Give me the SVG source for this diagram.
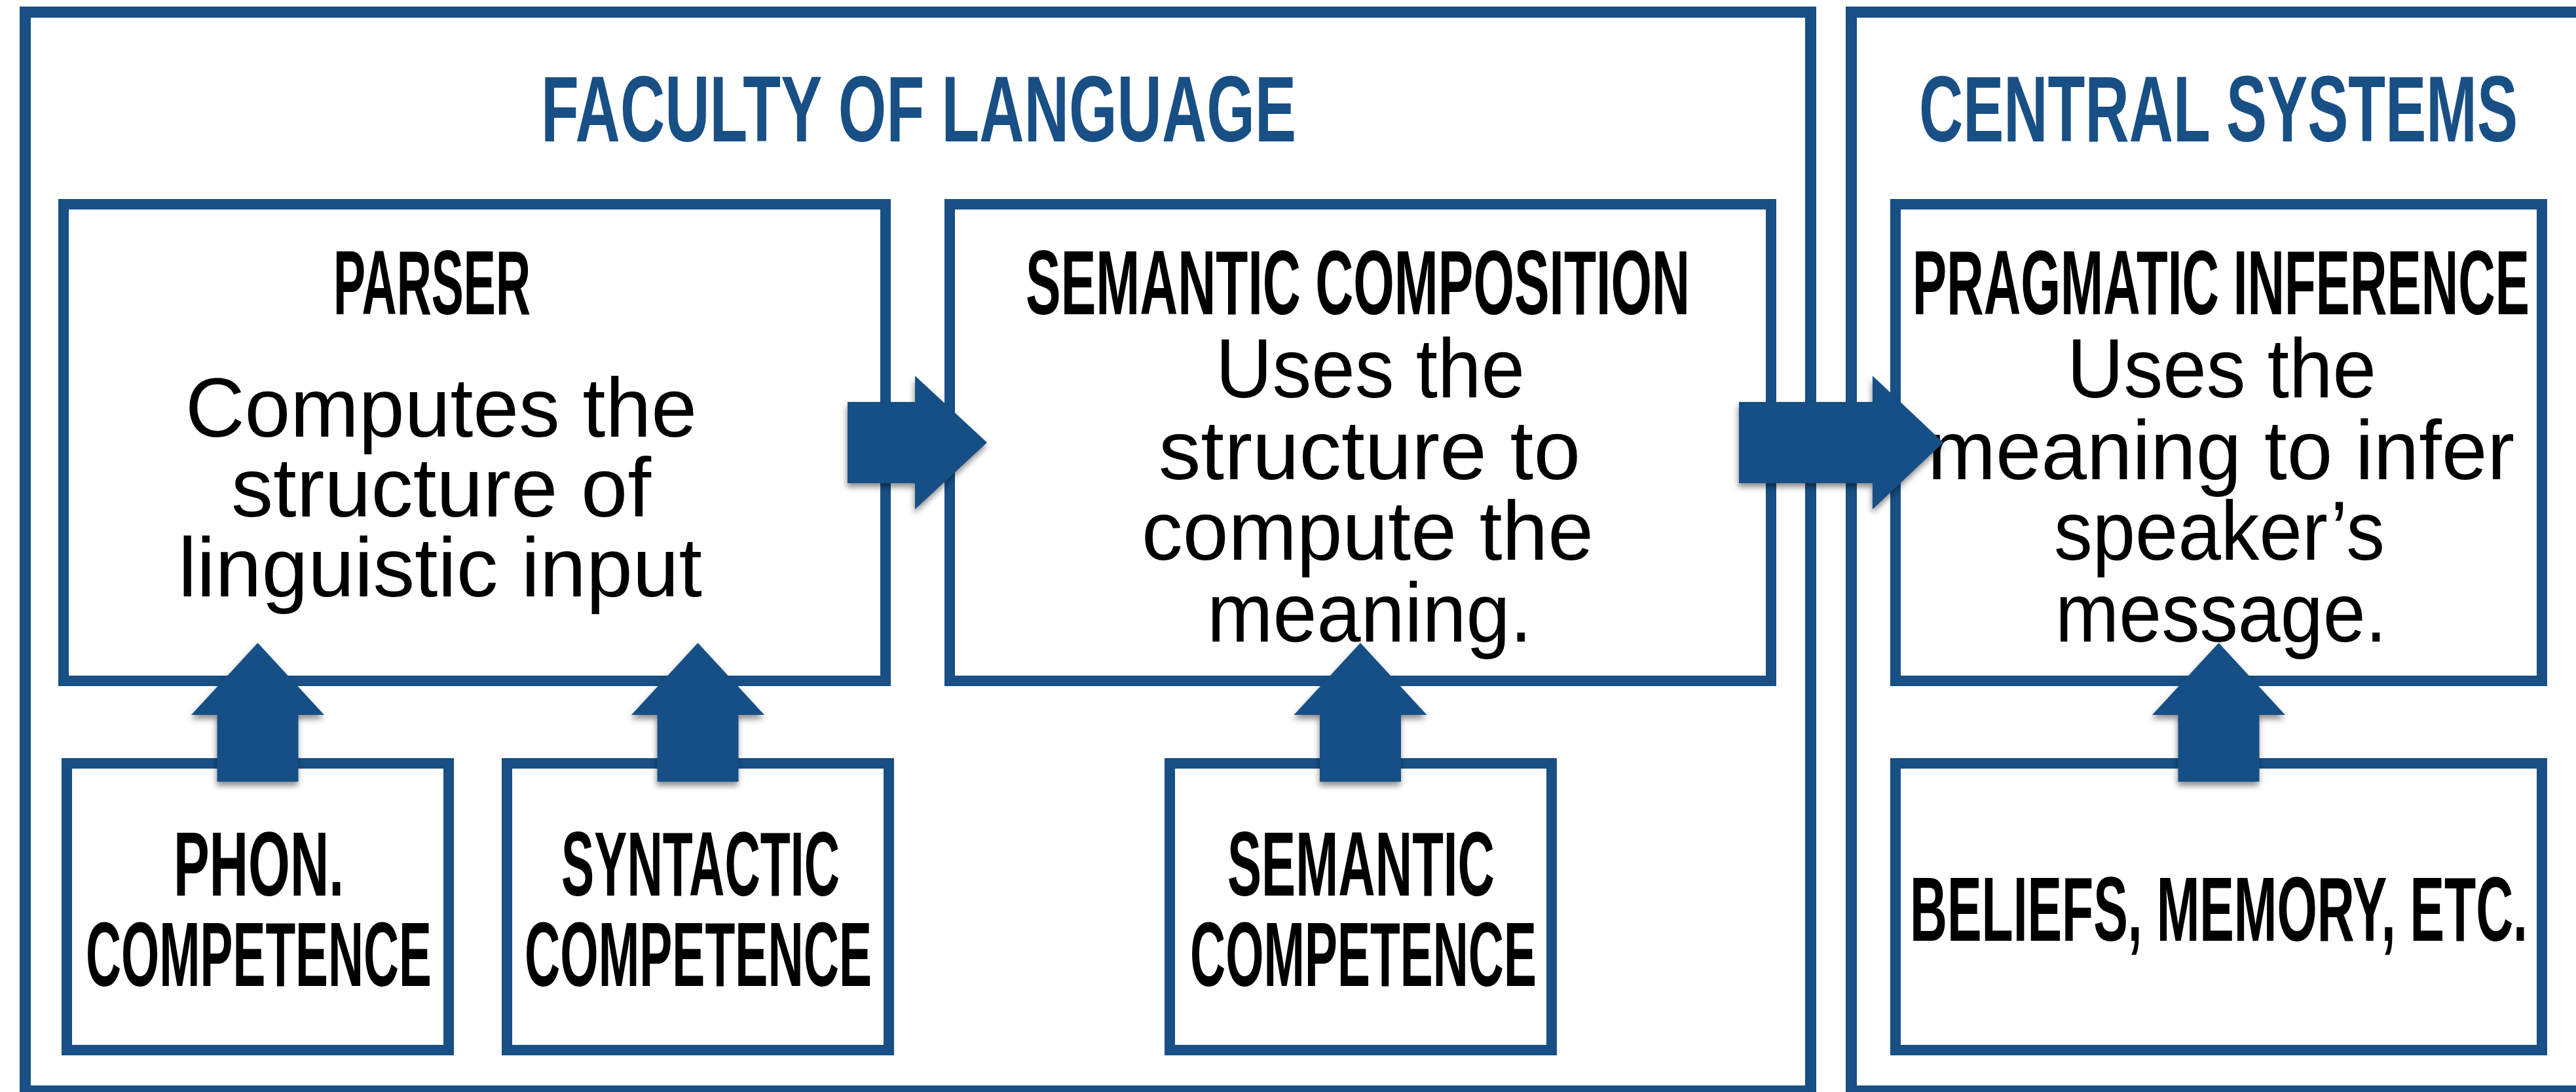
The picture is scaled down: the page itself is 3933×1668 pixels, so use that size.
<svg xmlns="http://www.w3.org/2000/svg" width="3933" height="1668" viewBox="0 0 3933 1668">
<style>
.outer{fill:none;stroke:#184F85;stroke-width:17}
.box{fill:none;stroke:#184F85;stroke-width:16}
.title{font-family:"Liberation Sans",Arial,sans-serif;font-weight:bold;font-size:142px;fill:#184F85}
.head{font-family:"Liberation Sans",Arial,sans-serif;font-weight:bold;font-size:140px;fill:#000}
.body{font-family:"Liberation Sans",Arial,sans-serif;font-size:128px;fill:#000}
.arrow{fill:#184F85;filter:url(#sh)}
</style>
<defs>
<filter id="sh" x="-20%" y="-20%" width="140%" height="150%">
<feDropShadow dx="-1" dy="6" stdDeviation="5" flood-color="#000" flood-opacity="0.45"/>
</filter>
</defs>
<rect width="3933" height="1668" fill="#fff"/>
<g id="faculty-of-language">
<rect class="outer" x="38.5" y="18.5" width="2726" height="1648"/>
<text class="title" x="826" y="216" textLength="1153" lengthAdjust="spacingAndGlyphs">FACULTY OF LANGUAGE</text>
</g>
<g id="central-systems">
<rect class="outer" x="2826.5" y="18.5" width="1300" height="1648"/>
<text class="title" x="2930" y="216" textLength="914" lengthAdjust="spacingAndGlyphs">CENTRAL SYSTEMS</text>
</g>
<g id="parser">
<rect class="box" x="97" y="312" width="1255" height="728"/>
<text class="head" x="509" y="480" textLength="301" lengthAdjust="spacingAndGlyphs">PARSER</text>
<text class="body" x="283" y="667" textLength="781" lengthAdjust="spacingAndGlyphs">Computes the</text>
<text class="body" x="353" y="789" textLength="641" lengthAdjust="spacingAndGlyphs">structure of</text>
<text class="body" x="272" y="911" textLength="800" lengthAdjust="spacingAndGlyphs">linguistic input</text>
</g>
<g id="semantic-composition">
<rect class="box" x="1450" y="312" width="1254" height="728"/>
<text class="head" x="1566" y="480" textLength="1014" lengthAdjust="spacingAndGlyphs">SEMANTIC COMPOSITION</text>
<text class="body" x="1856" y="607" textLength="472" lengthAdjust="spacingAndGlyphs">Uses the</text>
<text class="body" x="1769" y="732" textLength="644" lengthAdjust="spacingAndGlyphs">structure to</text>
<text class="body" x="1743" y="855" textLength="690" lengthAdjust="spacingAndGlyphs">compute the</text>
<text class="body" x="1843" y="980" textLength="496" lengthAdjust="spacingAndGlyphs">meaning.</text>
</g>
<g id="pragmatic-inference">
<rect class="box" x="2894" y="312" width="987" height="728"/>
<text class="head" x="2920" y="480" textLength="942" lengthAdjust="spacingAndGlyphs">PRAGMATIC INFERENCE</text>
<text class="body" x="3156" y="607" textLength="472" lengthAdjust="spacingAndGlyphs">Uses the</text>
<text class="body" x="2943" y="732" textLength="896" lengthAdjust="spacingAndGlyphs">meaning to infer</text>
<text class="body" x="3136" y="855" textLength="505" lengthAdjust="spacingAndGlyphs">speaker’s</text>
<text class="body" x="3138" y="980" textLength="506" lengthAdjust="spacingAndGlyphs">message.</text>
</g>
<g id="phon-competence">
<rect class="box" x="102" y="1166" width="583" height="438"/>
<text class="head" x="265" y="1368" textLength="260" lengthAdjust="spacingAndGlyphs">PHON.</text>
<text class="head" x="131" y="1506" textLength="528" lengthAdjust="spacingAndGlyphs">COMPETENCE</text>
</g>
<g id="syntactic-competence">
<rect class="box" x="774" y="1166" width="583" height="438"/>
<text class="head" x="857" y="1368" textLength="425" lengthAdjust="spacingAndGlyphs">SYNTACTIC</text>
<text class="head" x="801" y="1506" textLength="530" lengthAdjust="spacingAndGlyphs">COMPETENCE</text>
</g>
<g id="semantic-competence">
<rect class="box" x="1786" y="1166" width="583" height="438"/>
<text class="head" x="1874" y="1368" textLength="408" lengthAdjust="spacingAndGlyphs">SEMANTIC</text>
<text class="head" x="1817" y="1506" textLength="529" lengthAdjust="spacingAndGlyphs">COMPETENCE</text>
</g>
<g id="beliefs-memory">
<rect class="box" x="2894" y="1166" width="987" height="438"/>
<text class="head" x="2916" y="1437" textLength="943" lengthAdjust="spacingAndGlyphs">BELIEFS, MEMORY, ETC.</text>
</g>
<g id="connectors">
<path class="arrow" d="M1294,614 H1397 V574 L1507,676 L1397,778 V738 H1294 Z"/>
<path class="arrow" d="M2655,614 H2859 V574 L2967,676 L2859,778 V738 H2655 Z"/>
<path class="arrow" d="M331.5,1194 V1092 H292 L393.5,982 L495,1092 H455.5 V1194 Z"/>
<path class="arrow" d="M1003.5,1194 V1092 H964 L1065.5,982 L1167,1092 H1127.5 V1194 Z"/>
<path class="arrow" d="M2015,1194 V1092 H1975.5 L2077,982 L2178.5,1092 H2139 V1194 Z"/>
<path class="arrow" d="M3325.5,1194 V1092 H3286 L3387.5,982 L3489,1092 H3449.5 V1194 Z"/>
</g>
</svg>
